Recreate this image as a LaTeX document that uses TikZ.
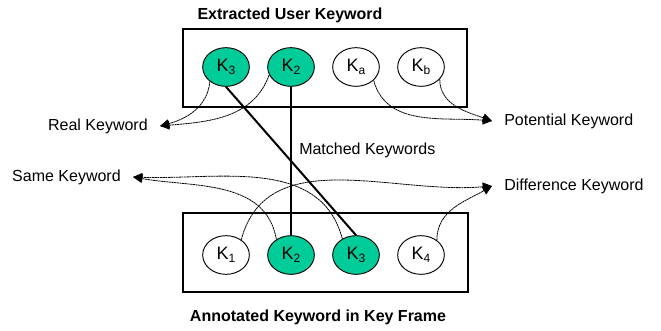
\documentclass[tikz,border=0pt]{standalone}
\usepackage{fontspec}
\setmainfont{Liberation Sans}
\usetikzlibrary{arrows.meta,shapes.geometric}
\definecolor{kwgreen}{RGB}{0,204,153}
\newcommand{\ksub}[1]{K\raisebox{-2.6pt}{\fontsize{9}{10}\selectfont#1}}

\begin{document}
\begin{tikzpicture}[x=0.75pt,y=0.75pt,font=\fontsize{12}{14}\selectfont,
		kw/.style={ellipse,draw,line width=0.7pt,minimum width=35pt,minimum height=29pt,inner sep=0pt,font=\fontsize{13.5}{15}\selectfont},
		hit/.style={kw,fill=kwgreen},
		lbl/.style={inner xsep=9pt,inner ysep=0pt},
		link/.style={line width=0.6pt,dash pattern=on 1.6pt off 0.4pt,-{Triangle[length=7pt,width=6.5pt]}},
		match/.style={line width=1.5pt}]
		\useasboundingbox (0,0) rectangle (661,-331);
		\draw[line width=1.1pt] (183,-29) rectangle (467,-107);
		\draw[line width=1.1pt] (183,-213) rectangle (468,-292);
		\node[font=\fontsize{12}{14}\selectfont\bfseries] (top) at (290,-15) {Extracted User Keyword};
		\node[font=\fontsize{12}{14}\selectfont\bfseries] (bot) at (318,-317) {Annotated Keyword in Key Frame};
		\node[hit] (tK3) at (226,-67) {\ksub{3}};
		\node[hit] (tK2) at (291,-67) {\ksub{2}};
		\node[kw] (tKa) at (356,-67) {\ksub{a}};
		\node[kw] (tKb) at (421,-67) {\ksub{b}};
		\node[kw] (bK1) at (226,-255) {\ksub{1}};
		\node[hit] (bK2) at (291,-255) {\ksub{2}};
		\node[hit] (bK3) at (356,-255) {\ksub{3}};
		\node[kw] (bK4) at (421,-255) {\ksub{4}};
		\node[lbl,anchor=east] (real) at (160,-126) {Real Keyword};
		\node[lbl,anchor=west] (pot) at (492,-121) {Potential Keyword};
		\node[lbl,anchor=east] (same) at (133,-177) {Same Keyword};
		\node[lbl,anchor=west] (diff) at (492,-186) {Difference Keyword};
		\node[anchor=west,inner sep=0pt] (matched) at (299,-150) {Matched Keywords};
		\draw[match] (tK3.south) -- (bK3.north);
		\draw[match] (tK2.south) -- (bK2.north);
		\draw[link] (tK3.222) to[out=-95,in=15] (real.east);
		\draw[link] (tK2.200) to[out=-110,in=5] (real.east);
		\draw[link] (tKa.323) to[out=-75,in=175] (pot.west);
		\draw[link] (tKb.327) to[out=-90,in=160] (pot.west);
		\draw[link] (bK2.133) to[out=100,in=-10] (same.east);
		\draw[link] (bK3.130) to[out=105,in=-2] (same.east);
		\draw[link] (bK1.45) to[out=75,in=185] (diff.west);
		\draw[link] (bK4.43) to[out=90,in=210] (diff.west);
	\end{tikzpicture}
\end{document}
